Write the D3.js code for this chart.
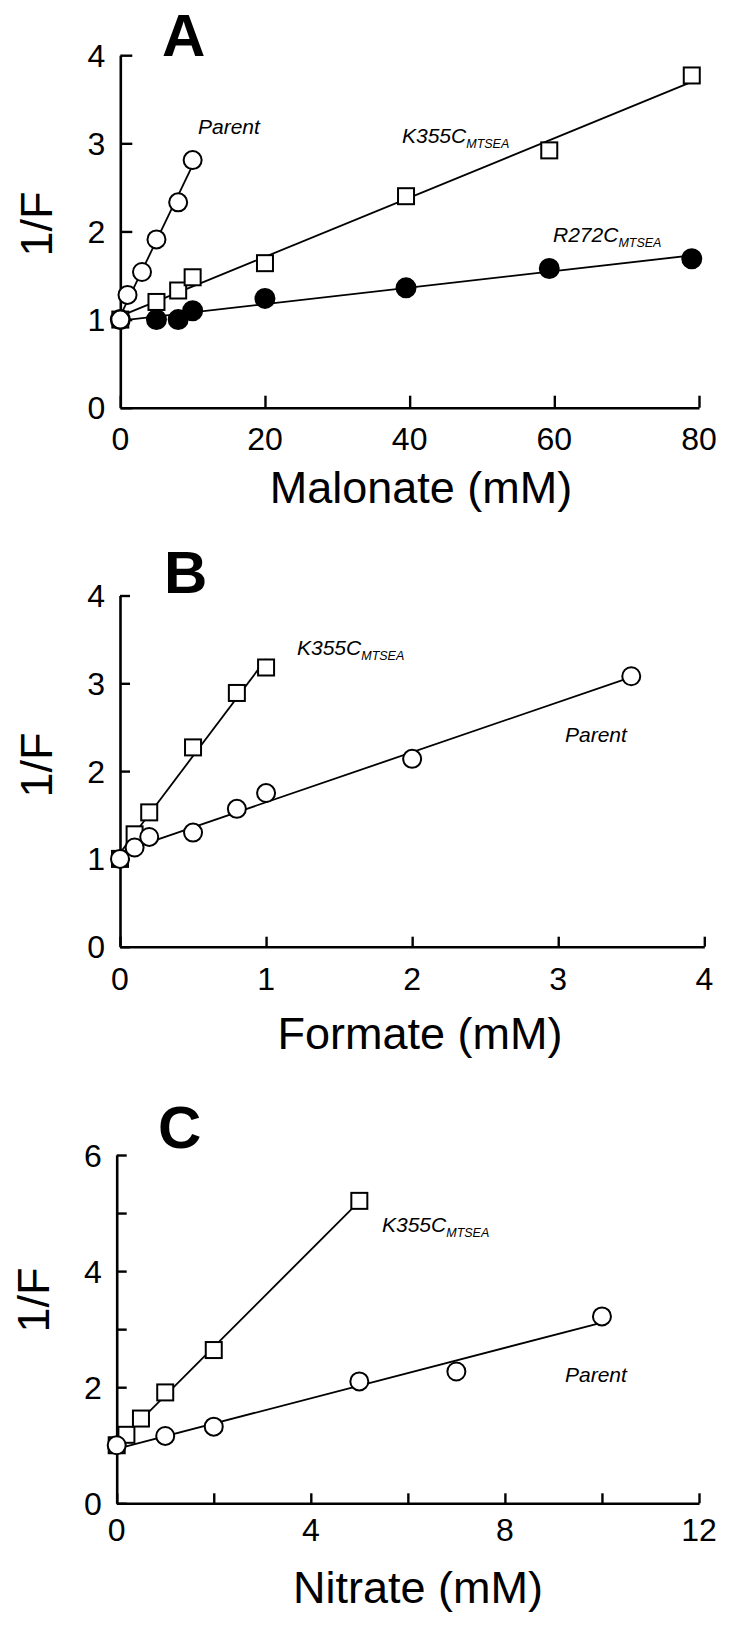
<!DOCTYPE html>
<html><head><meta charset="utf-8">
<script src="https://cdn.jsdelivr.net/npm/d3@7"></script>
<style>body{margin:0;background:#fff}svg{display:block}text{font-family:"Liberation Sans",Arial,sans-serif;fill:#000}</style>
</head><body>
<script>
// ---- Panel A: Malonate ----
const aParentX = [0, 1, 3, 5, 8, 10];
const aParentY = [1.0, 1.28, 1.54, 1.91, 2.33, 2.81];
const aK355X = [0, 5, 8, 10, 20, 39.5, 59.3, 79];
const aK355Y = [1.0, 1.2, 1.33, 1.48, 1.64, 2.40, 2.92, 3.77];
const aR272X = [0, 5, 8, 10, 20, 39.5, 59.3, 79];
const aR272Y = [1.0, 1.0, 1.0, 1.10, 1.24, 1.36, 1.58, 1.69];
const aXTicks = [0, 20, 40, 60, 80];
const aYTicks = [0, 1, 2, 3, 4];
// ---- Panel B: Formate ----
const bK355X = [0, 0.1, 0.2, 0.5, 0.8, 1.0];
const bK355Y = [1.0, 1.28, 1.53, 2.27, 2.89, 3.18];
const bParentX = [0, 0.1, 0.2, 0.5, 0.8, 1.0, 2.0, 3.5];
const bParentY = [1.0, 1.13, 1.25, 1.30, 1.57, 1.75, 2.14, 3.08];
const bXTicks = [0, 1, 2, 3, 4];
const bYTicks = [0, 1, 2, 3, 4];
// ---- Panel C: Nitrate ----
const cK355X = [0, 0.2, 0.5, 1, 2, 5];
const cK355Y = [1.0, 1.18, 1.46, 1.91, 2.64, 5.21];
const cParentX = [0, 1, 2, 5, 7, 10];
const cParentY = [1.0, 1.16, 1.32, 2.10, 2.27, 3.22];
const cXTicks = [0, 2, 4, 6, 8, 10, 12];
const cXLabels = [0, 4, 8, 12];
const cYTicks = [0, 1, 2, 3, 4, 5, 6];
const cYLabels = [0, 2, 4, 6];

const W = 729, H = 1626;
const svg = d3.select("body").append("svg").attr("width", W).attr("height", H);

function fit(xs, ys) {
  const n = xs.length, mx = d3.mean(xs), my = d3.mean(ys);
  let sxy = 0, sxx = 0;
  for (let i = 0; i < n; i++) { sxy += (xs[i]-mx)*(ys[i]-my); sxx += (xs[i]-mx)**2; }
  const b = sxy / sxx; return {b, a: my - b*mx};
}

function panel(cfg) {
  const g = svg.append("g");
  const x = d3.scaleLinear().domain(cfg.xd).range([cfg.left, cfg.right]);
  const y = d3.scaleLinear().domain(cfg.yd).range([cfg.bottom, cfg.top]);
  const xa = d3.axisBottom(x).tickValues(cfg.xticks).tickSizeInner(-cfg.tick).tickSizeOuter(0).tickFormat("");
  const ya = d3.axisLeft(y).tickValues(cfg.yticks).tickSizeInner(-cfg.tick).tickSizeOuter(0).tickFormat("");
  const gx = g.append("g").attr("transform", `translate(0,${cfg.bottom})`).call(xa);
  const gy = g.append("g").attr("transform", `translate(${cfg.left},0)`).call(ya);
  [gx, gy].forEach(a => {
    a.select(".domain").attr("stroke", "#000").attr("stroke-width", 2.6);
    a.selectAll(".tick line").attr("stroke", "#000").attr("stroke-width", 2.4);
  });
  g.selectAll(null).data(cfg.xlabels).join("text")
    .attr("x", d => x(d)).attr("y", cfg.bottom + cfg.xlabOff)
    .attr("text-anchor", "middle").attr("font-size", 32).text(d => d);
  g.selectAll(null).data(cfg.ylabels).join("text")
    .attr("x", cfg.left - cfg.ylabOff).attr("y", d => y(d)).attr("dy", "0.36em")
    .attr("text-anchor", "end").attr("font-size", 32).text(d => d);
  g.append("text").attr("x", cfg.xtitleX).attr("y", cfg.xtitleY).attr("text-anchor", "middle")
    .attr("font-size", 45).text(cfg.xtitle);
  g.append("text").attr("transform", `translate(${cfg.ytitleX},${cfg.ytitleY}) rotate(-90)`)
    .attr("text-anchor", "middle").attr("dy", "0.36em").attr("font-size", 45).text("1/F");
  g.append("text").attr("x", cfg.letterX).attr("y", cfg.letterY).attr("font-size", 60)
    .attr("font-weight", "bold").text(cfg.letter);
  cfg.series.forEach(s => {
    const f = fit(s.x, s.y);
    g.append("line").attr("x1", x(0)).attr("y1", y(f.a))
      .attr("x2", x(s.lineEnd)).attr("y2", y(f.a + f.b*s.lineEnd))
      .attr("stroke", "#000").attr("stroke-width", 1.8);
  });
  cfg.series.forEach(s => {
    const pts = s.x.map((v, i) => [v, s.y[i]]);
    if (s.shape === "square") {
      g.selectAll(null).data(pts).join("rect")
        .attr("x", d => x(d[0]) - 8).attr("y", d => y(d[1]) - 8)
        .attr("width", 16).attr("height", 16)
        .attr("fill", "#fff").attr("stroke", "#000").attr("stroke-width", 2);
    } else {
      g.selectAll(null).data(pts).join("circle")
        .attr("cx", d => x(d[0])).attr("cy", d => y(d[1])).attr("r", s.filled ? 9.5 : 9)
        .attr("fill", s.filled ? "#000" : "#fff").attr("stroke", "#000").attr("stroke-width", 2);
    }
  });
  cfg.series.forEach(s => {
    const t = g.append("text").attr("x", s.lx).attr("y", s.ly).attr("font-style", "italic").attr("font-size", 21);
    t.append("tspan").text(s.name);
    if (s.sub) t.append("tspan").attr("font-size", 12.5).attr("dy", 5).text(s.sub);
  });
}

panel({
  letter: "A", letterX: 162, letterY: 56,
  left: 120.3, right: 699, top: 55.2, bottom: 407.7, xd: [0, 80], yd: [0, 4],
  xticks: aXTicks, yticks: aYTicks, xlabels: aXTicks, ylabels: aYTicks, tick: 12,
  xlabOff: 42, ylabOff: 15,
  xtitle: "Malonate (mM)", xtitleX: 421, xtitleY: 503, ytitleX: 36, ytitleY: 224,
  series: [
    {shape: "circle", filled: true, x: aR272X, y: aR272Y, lineEnd: 80, name: "R272C", sub: "MTSEA", lx: 553, ly: 242},
    {shape: "square", x: aK355X, y: aK355Y, lineEnd: 80, name: "K355C", sub: "MTSEA", lx: 402, ly: 143},
    {shape: "circle", filled: false, x: aParentX, y: aParentY, lineEnd: 10, name: "Parent", lx: 198, ly: 134}
  ]
});

panel({
  letter: "B", letterX: 164, letterY: 593,
  left: 120, right: 704.3, top: 595.5, bottom: 946.7, xd: [0, 4], yd: [0, 4],
  xticks: bXTicks, yticks: bYTicks, xlabels: bXTicks, ylabels: bYTicks, tick: 10,
  xlabOff: 43, ylabOff: 15,
  xtitle: "Formate (mM)", xtitleX: 420, xtitleY: 1049, ytitleX: 36, ytitleY: 765,
  series: [
    {shape: "square", x: bK355X, y: bK355Y, lineEnd: 1, name: "K355C", sub: "MTSEA", lx: 297, ly: 655},
    {shape: "circle", filled: false, x: bParentX, y: bParentY, lineEnd: 3.5, name: "Parent", lx: 565, ly: 742}
  ]
});

panel({
  letter: "C", letterX: 158, letterY: 1148,
  left: 116.7, right: 699, top: 1155, bottom: 1503.3, xd: [0, 12], yd: [0, 6],
  xticks: cXTicks, yticks: cYTicks, xlabels: cXLabels, ylabels: cYLabels, tick: 10,
  xlabOff: 38, ylabOff: 15,
  xtitle: "Nitrate (mM)", xtitleX: 418, xtitleY: 1603, ytitleX: 33, ytitleY: 1300,
  series: [
    {shape: "square", x: cK355X, y: cK355Y, lineEnd: 5, name: "K355C", sub: "MTSEA", lx: 382, ly: 1232},
    {shape: "circle", filled: false, x: cParentX, y: cParentY, lineEnd: 10, name: "Parent", lx: 565, ly: 1382}
  ]
});
</script>
</body></html>
